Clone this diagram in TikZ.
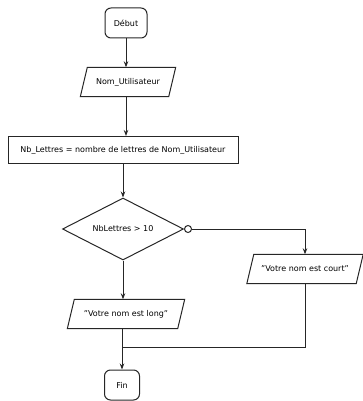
\documentclass[tikz,border=0pt]{standalone}
\usepackage{fontspec}
\setmainfont{DejaVu Sans}
\usetikzlibrary{arrows.meta,shapes.geometric}
\begin{document}
\begin{tikzpicture}[x=1pt,y=-1pt,
  every node/.style={font=\fontsize{8}{9.6}\selectfont, inner sep=0pt},
  line/.style={draw=black!85, line width=1pt},
  arr/.style={line, -{Stealth[length=6pt,width=4.5pt]}},
  term/.style={line, rounded corners=6pt, minimum width=42pt, minimum height=30pt},
  io/.style={rectangle, minimum height=29pt},
  proc/.style={line, rectangle, minimum height=27pt},
  dec/.style={line, diamond, aspect=2, minimum width=121pt, minimum height=62pt}]
\useasboundingbox (0,0) rectangle (363,401);
\node[term] (debut) at (126,23) {Début};
\node[io, minimum width=88pt] (nom) at (128,82) {Nom\_Utilisateur};
\node[proc, minimum width=230pt] (calc) at (123,150) {Nb\_Lettres = nombre de lettres de Nom\_Utilisateur};
\node[dec] (test) at (123,229) {NbLettres > 10};
\node[io, minimum width=109pt] (court) at (305,269) {"Votre nom est court"};
\node[io, minimum width=110pt] (long) at (126,314) {"Votre nom est long"};
\node[term, minimum width=35pt] (fin) at (122,385) {Fin};
\coordinate (j) at (122,347);
\foreach \n in {nom,court,long}
  \draw[line] ([xshift=3.5pt]\n.north west) -- ([xshift=3.5pt]\n.north east)
    -- ([xshift=-3.5pt]\n.south east) -- ([xshift=-3.5pt]\n.south west) -- cycle;
\draw[arr] (debut) -- (debut |- nom.north);
\draw[arr] (nom.south -| debut) -- (debut |- calc.north);
\draw[arr] (calc.south) -- (test.north);
\draw[line, fill=white] (test.east) ++(4,0) circle (3.5pt) coordinate (c0);
\draw[arr] (test.east) ++(7.5,0) -| (court.north);
\draw[arr] (test.south) -- (test.south |- long.north);
\draw[line] (court.south) |- (j);
\draw[arr] (long.south -| fin) -- (fin.north);
\end{tikzpicture}
\end{document}
